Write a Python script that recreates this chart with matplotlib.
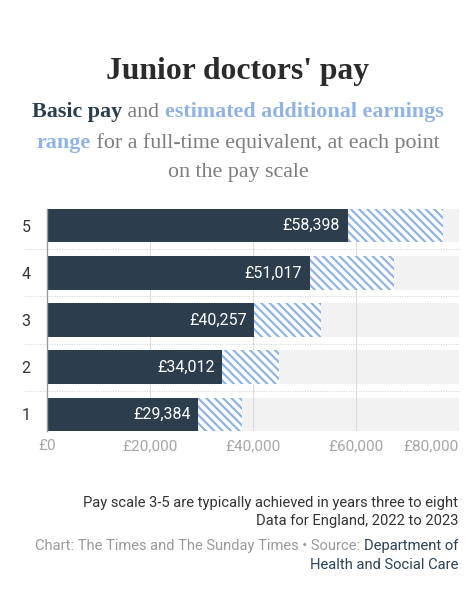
import matplotlib
matplotlib.use("Agg")
import matplotlib.pyplot as plt
import matplotlib.transforms as mtransforms
from matplotlib.offsetbox import TextArea, HPacker, AnnotationBbox

# pay scale points (bottom to top)
points = ["1", "2", "3", "4", "5"]
basic_pay = [29384, 34012, 40257, 51017, 58398]
# estimated top of the additional earnings range
upper_pay = [37900, 45050, 53250, 67300, 76900]
x_ticks = [0, 20000, 40000, 60000, 80000]
x_tick_labels = ["£0", "£20,000", "£40,000", "£60,000", "£80,000"]

DARK = "#2c3e4d"
BLUE = "#8fb4e3"
GREY_TXT = "#7d7d7d"
BAND = "#f2f2f2"

plt.rcParams["font.family"] = ["Roboto", "DejaVu Sans"]
plt.rcParams["hatch.linewidth"] = 1.6

fig = plt.figure(figsize=(4.76, 6.0), dpi=100)
W, H = 476, 600
left, right, top, bottom = 47, 459, 209, 431
ax = fig.add_axes([left / W, 1 - bottom / H, (right - left) / W, (bottom - top) / H])

ypos = list(range(1, len(points) + 1))
bh = 0.71
xmax = 80000

# background bands and gridlines
ax.barh(ypos, [xmax] * len(ypos), height=bh, color=BAND, zorder=0)
for xt in x_ticks[1:-1]:
    ax.axvline(xt, color="#dcdcdc", lw=0.8, zorder=1)

# basic pay and hatched additional range
ax.barh(ypos, basic_pay, height=bh, color=DARK, zorder=3)
extra = [u - b for u, b in zip(upper_pay, basic_pay)]
ax.barh(ypos, extra, left=basic_pay, height=bh, color="white",
        edgecolor=BLUE, linewidth=0, hatch="\\\\\\\\", zorder=3)

for y, v in zip(ypos, basic_pay):
    ax.text(v - 1500, y, f"£{v:,}", color="white", fontsize=11.5,
            ha="right", va="center", zorder=4)

# dotted separators between rows
trans = mtransforms.blended_transform_factory(ax.transAxes, ax.transData)
for y in ypos[:-1]:
    ax.plot([-0.053, 1.0], [y + 0.5, y + 0.5], transform=trans, color="#d0d0d0",
            lw=0.7, ls=(0, (1, 1.5)), clip_on=False, zorder=2)

ax.set_xlim(0, xmax)
ax.set_ylim(1 - bh / 2, len(points) + bh / 2)
for s in ["top", "right", "bottom"]:
    ax.spines[s].set_visible(False)
ax.spines["left"].set_color("#999999")
ax.spines["left"].set_linewidth(1.0)
ax.spines["left"].set_zorder(5)

ax.set_yticks(ypos)
ax.set_yticklabels(points, fontsize=11.5, color="#333333")
ax.tick_params(axis="y", length=0, pad=12)
ax.set_xticks(x_ticks)
ax.set_xticklabels(x_tick_labels, fontsize=11, color="#a6a6a6")
ax.tick_params(axis="x", length=0, pad=6)
ax.get_xticklabels()[-1].set_ha("right")

# title
fig.text(0.5, 1 - 72 / H, "Junior doctors' pay", family="Liberation Serif",
         fontweight="bold", fontsize=22.8, color="#2b2b2b", ha="center", va="center")


def rich_line(parts, xy, align, size, family):
    boxes = [TextArea(t, textprops=dict(color=c, fontweight=w, fontsize=size,
                                         family=family)) for t, c, w in parts]
    pack = HPacker(children=boxes, pad=0, sep=0, align="baseline")
    ab = AnnotationBbox(pack, xy, xycoords="figure pixels", frameon=False,
                        box_alignment=align, pad=0)
    fig.add_artist(ab)


serif = "Liberation Serif"
sub = 15.8
rich_line([("Basic pay", DARK, "bold"), (" and ", GREY_TXT, "normal"),
           ("estimated additional earnings", BLUE, "bold")],
          (W / 2, H - 112), (0.5, 0.5), sub, serif)
rich_line([("range", BLUE, "bold"),
           (" for a full-time equivalent, at each point", GREY_TXT, "normal")],
          (W / 2, H - 143), (0.5, 0.5), sub, serif)
rich_line([("on the pay scale", GREY_TXT, "normal")],
          (W / 2, H - 173), (0.5, 0.5), sub, serif)

# footer
foot = 10.6
fig.text(458 / W, 1 - 503 / H, "Pay scale 3-5 are typically achieved in years three to eight",
         fontsize=foot, color="#333333", ha="right", va="center")
fig.text(458 / W, 1 - 521 / H, "Data for England, 2022 to 2023",
         fontsize=foot, color="#333333", ha="right", va="center")
rich_line([("Chart: The Times and The Sunday Times • Source: ", "#9a9a9a", "normal"),
           ("Department of", "#2c4256", "normal")],
          (458, H - 546), (1, 0.5), foot, ["Roboto", "DejaVu Sans"])
rich_line([("Health and Social Care", "#2c4256", "normal")],
          (458, H - 565), (1, 0.5), foot, ["Roboto", "DejaVu Sans"])

fig.savefig("out.png", dpi=100, facecolor="white")
